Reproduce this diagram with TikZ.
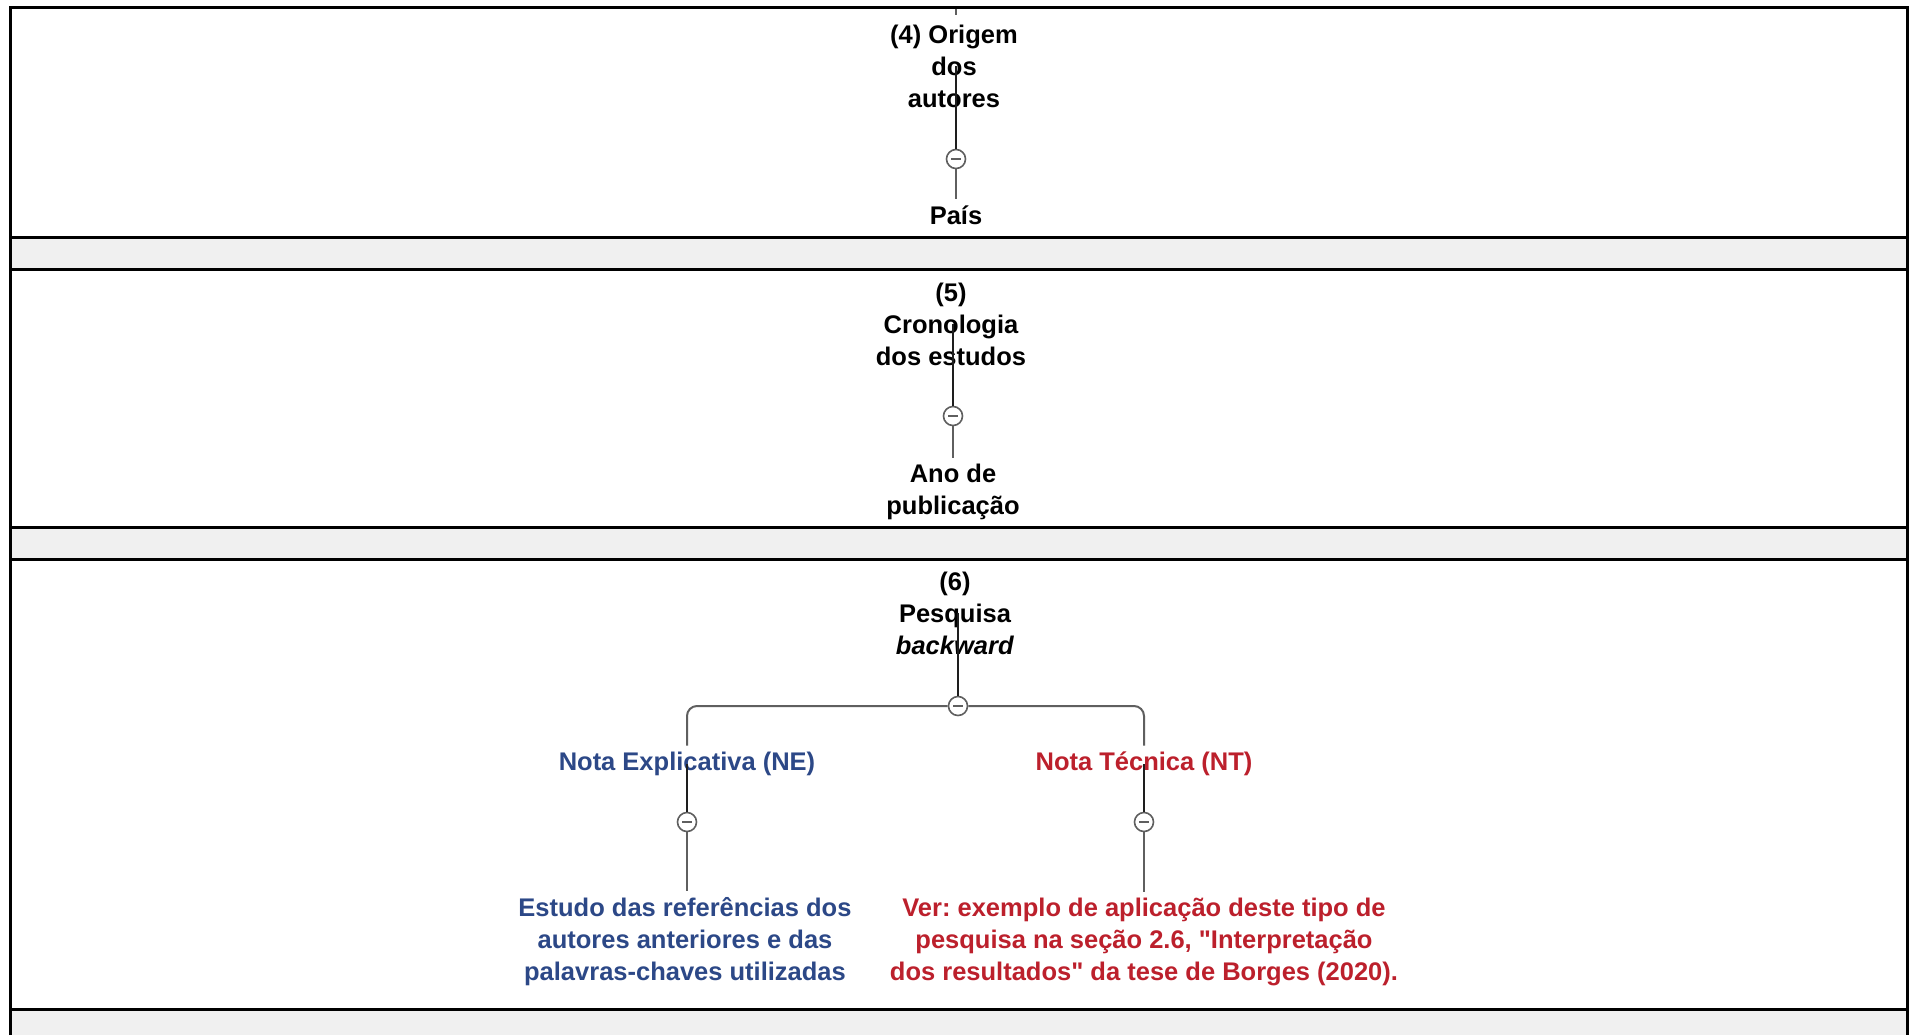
\documentclass[tikz,border=0pt]{standalone}
\usepackage{fontspec}
\setmainfont{Liberation Sans}
\frenchspacing
\definecolor{bandgray}{RGB}{240,240,240}
\definecolor{linedark}{RGB}{30,30,30}
\definecolor{linegray}{RGB}{95,95,95}
\definecolor{noteblue}{RGB}{44,72,135}
\definecolor{notered}{RGB}{188,32,44}
\begin{document}
\begin{tikzpicture}[x=0.5pt,y=-0.5pt,
  frame/.style={line width=1.5pt, draw=black},
  band/.style={fill=bandgray, draw=none},
  lbl/.style={font=\bfseries\fontsize{12.75}{16}\selectfont, align=center, inner sep=3pt, text=black},
  bluelbl/.style={lbl, text=noteblue},
  redlbl/.style={lbl, text=notered},
  conn/.style={line width=1pt, draw=linedark},
  conn2/.style={line width=1pt, draw=linegray},
  toggle/.style={circle, draw=linegray, fill=white, line width=0.8pt, minimum size=9.5pt, inner sep=0pt,
    path picture={\draw[line width=0.8pt, linegray] ([xshift=-2.4pt]path picture bounding box.center) -- ([xshift=2.4pt]path picture bounding box.center);}},
]
\useasboundingbox (0,0) rectangle (1913,1035);
\fill[white] (0,0) rectangle (1913,1035);
% gray bands
\fill[band] (10,237) rectangle (1907,269);
\fill[band] (10,527) rectangle (1907,559);
\fill[band] (10,1009) rectangle (1907,1035);
% frame
\draw[frame] (10,1035) -- (10,7) -- (1907,7) -- (1907,1035);
\draw[frame] (10,237) -- (1907,237);
\draw[frame] (10,269) -- (1907,269);
\draw[frame] (10,527) -- (1907,527);
\draw[frame] (10,559) -- (1907,559);
\draw[frame] (10,1009) -- (1907,1009);

% section 4
\coordinate (stubA) at (956,9);
\coordinate (stubB) at (956,15);
\draw[conn2, line width=0.6pt] (stubA) -- (stubB);
\node[lbl] (t4) at (954,66) {(4) Origem\\dos\\autores};
\node[toggle] (c4) at (956,159) {};
\node[lbl] (p4) at (956,215) {País};
\draw[conn] (t4.center -| c4.north) -- (c4.north);
\draw[conn2] (c4.south) -- (p4.north);

% section 5
\node[lbl] (t5) at (951,324) {(5)\\Cronologia\\dos estudos};
\node[toggle] (c5) at (953,416) {};
\node[lbl] (a5) at (953,492) {Ano de\\publicação};
\draw[conn] (t5.center -| c5.north) -- (c5.north);
\draw[conn2] (c5.south) -- (a5.north);

% section 6
\node[lbl] (t6) at (955,613) {(6)\\Pesquisa\\\textit{backward}};
\node[toggle] (c6) at (958,706) {};
\node[bluelbl] (ne) at (687,764) {Nota Explicativa (NE)};
\node[redlbl] (nt) at (1144,764) {Nota Técnica (NT)};
\node[toggle] (cne) at (687,822) {};
\node[toggle] (cnt) at (1144,822) {};
\node[bluelbl] (est) at (685,942) {Estudo das referências dos\\autores anteriores e das\\palavras-chaves utilizadas};
\node[redlbl] (ver) at (1144,942) {Ver: exemplo de aplicação deste tipo de\\pesquisa na seção 2.6, \textquotedbl Interpretação\\dos resultados\textquotedbl{} da tese de Borges (2020).};
\draw[conn] (t6.center -| c6.north) -- (c6.north);
\draw[conn2, rounded corners=5pt] (c6.west) -| (ne.north);
\draw[conn2, rounded corners=5pt] (c6.east) -| (nt.north);
\draw[conn] (ne.center -| cne.north) -- (cne.north);
\draw[conn] (nt.center -| cnt.north) -- (cnt.north);
\draw[conn2] (cne.south) -- (est.north -| cne.south);
\draw[conn2] (cnt.south) -- (ver.north -| cnt.south);
\end{tikzpicture}
\end{document}
